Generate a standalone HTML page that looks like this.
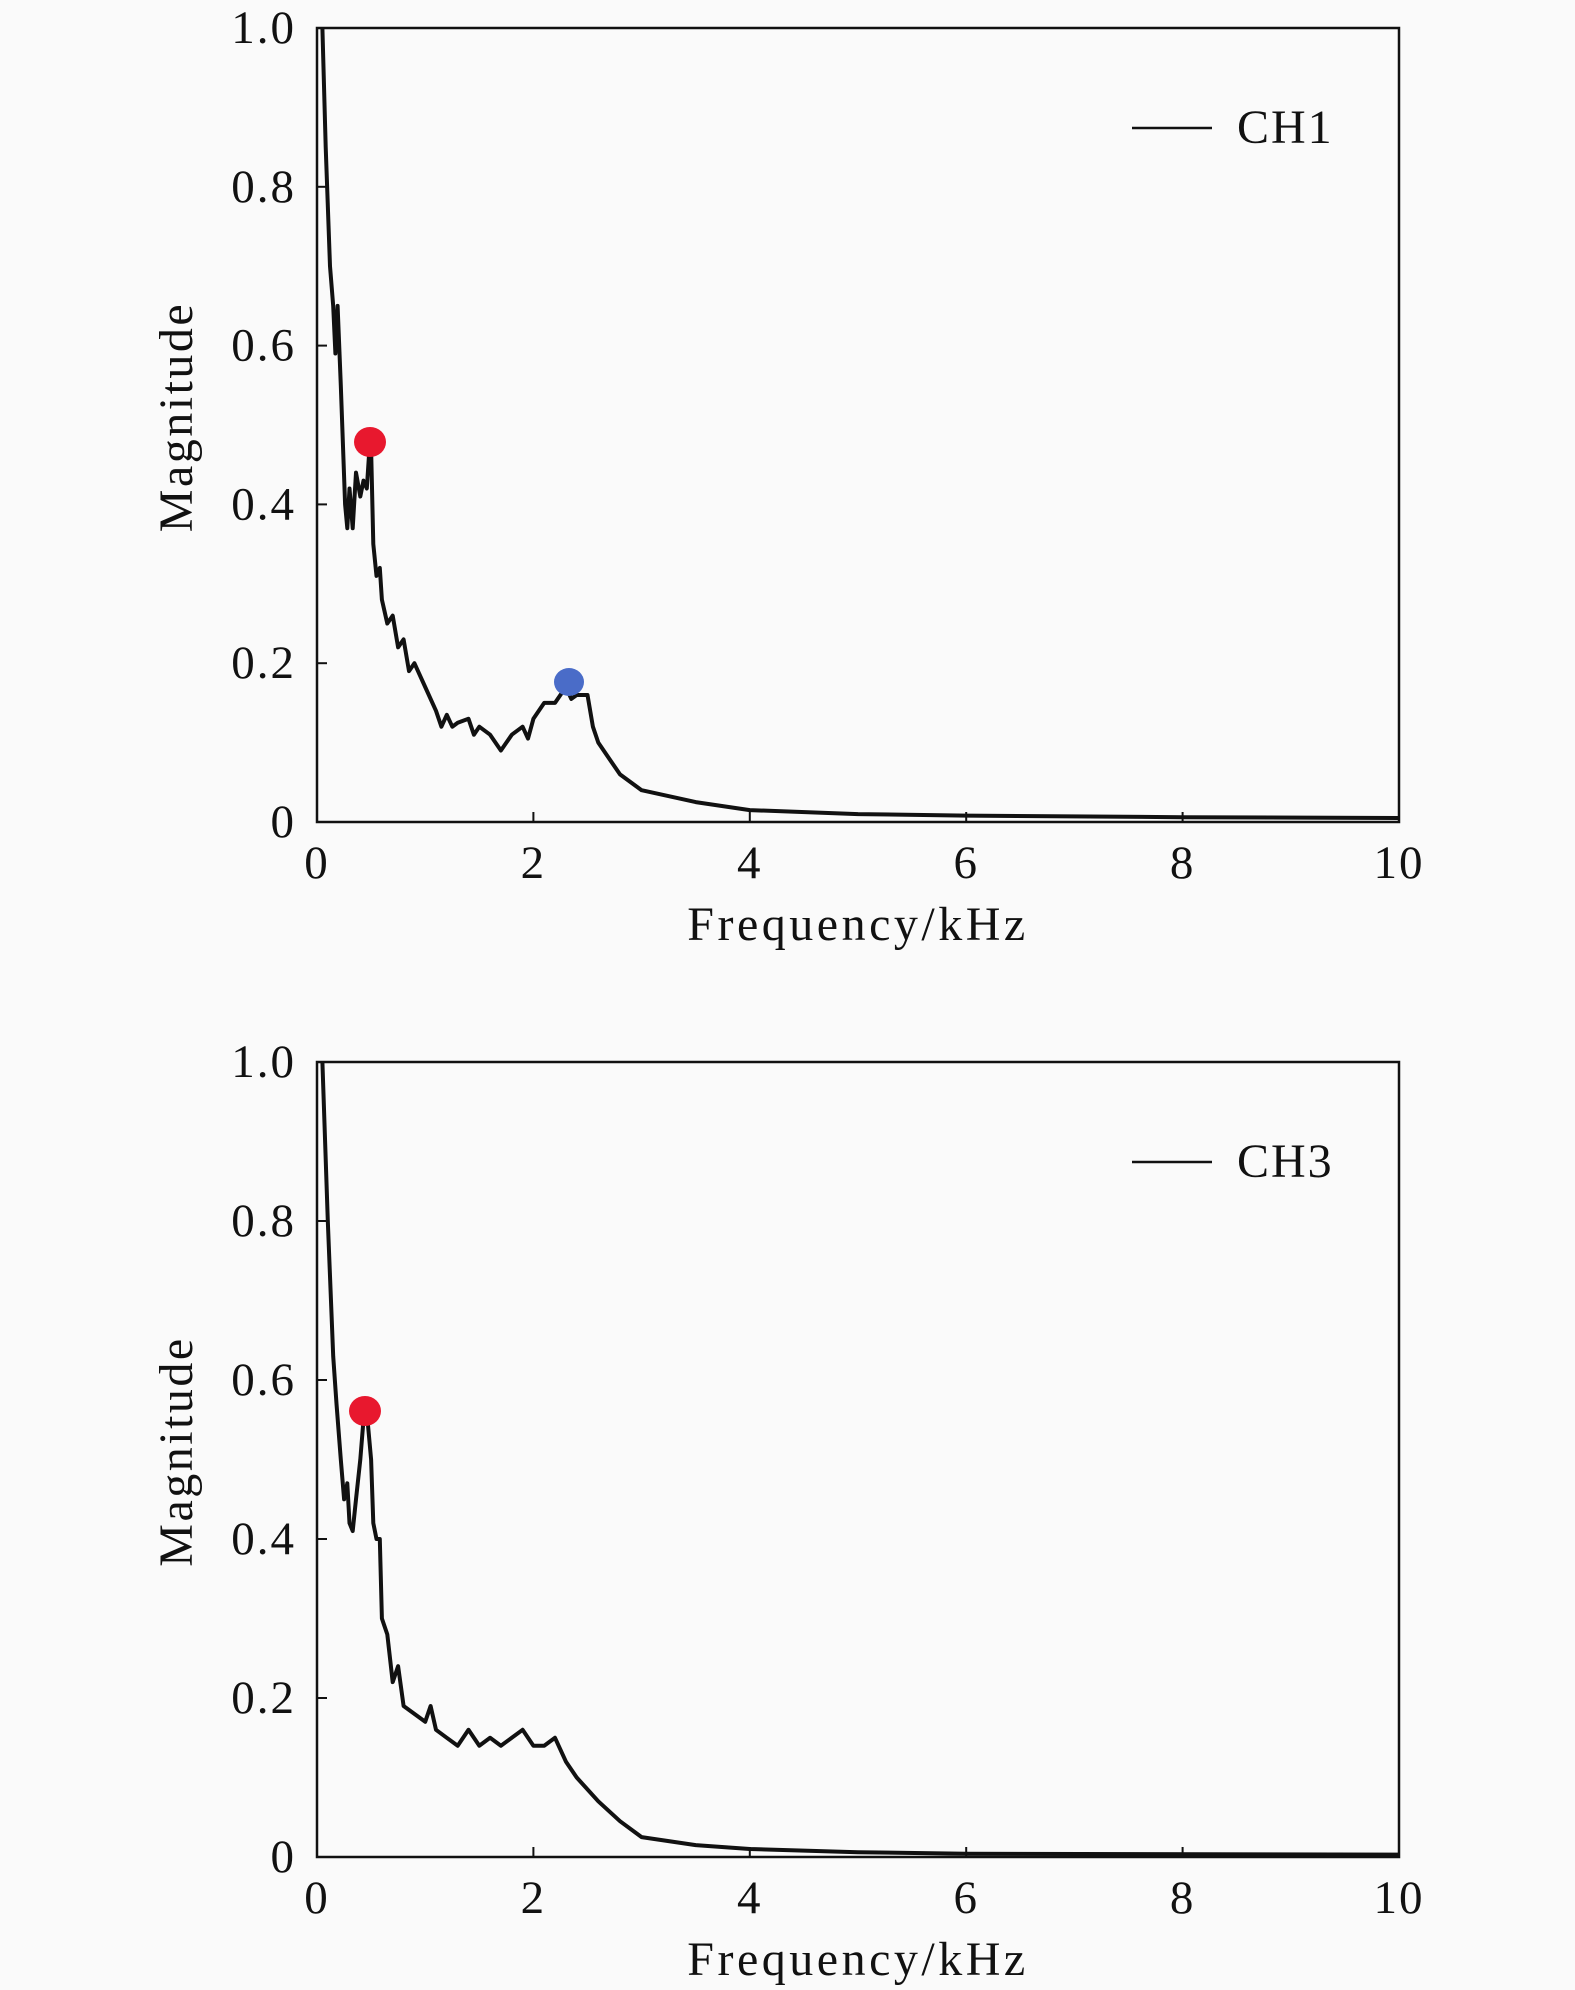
<!DOCTYPE html>
<html><head><meta charset="utf-8">
<style>
html,body{margin:0;padding:0;background:#fafafa;}
svg{display:block;}
text{font-family:"Liberation Serif","DejaVu Serif",serif;fill:#111;}
</style></head>
<body>
<svg id="s" width="1575" height="1990" xmlns="http://www.w3.org/2000/svg"></svg>
<script>
const NS="http://www.w3.org/2000/svg";
const s=document.getElementById('s');
function el(t,a,txt){const e=document.createElementNS(NS,t);for(const k in a)e.setAttribute(k,a[k]);if(txt!==undefined)e.textContent=txt;s.appendChild(e);return e;}
const L=317,R=1399;
function plot(top,bot,data,dots,leg){
  const fx=f=>L+f*(R-L)/10, fy=m=>bot-m*(bot-top);
  el('rect',{x:L,y:top,width:R-L,height:bot-top,fill:'none',stroke:'#111','stroke-width':2.5});
  for(let i=0;i<=5;i++){
    const x=fx(i*2);
    el('line',{x1:x,y1:bot,x2:x,y2:bot-10,stroke:'#111','stroke-width':2});
    el('text',{x:x,y:bot+56,'font-size':47,'text-anchor':'middle','letter-spacing':'2'},String(i*2));
    const v=i*0.2,y=fy(v);
    el('line',{x1:L,y1:y,x2:L+10,y2:y,stroke:'#111','stroke-width':2});
    el('text',{x:296,y:y+15,'font-size':47,'text-anchor':'end','letter-spacing':'2'},i==0?'0':v.toFixed(1));
  }
  el('text',{x:858,y:bot+118,'font-size':48,'text-anchor':'middle','letter-spacing':'3.5'},'Frequency/kHz');
  const cy=(top+bot)/2-8;
  el('text',{x:0,y:0,'font-size':48,'text-anchor':'middle','letter-spacing':'2.5',transform:`translate(192,${cy}) rotate(-90)`},'Magnitude');
  el('line',{x1:1132,y1:top+100,x2:1212,y2:top+100,stroke:'#111','stroke-width':2.5});
  el('text',{x:1237,y:top+115,'font-size':48,'letter-spacing':'2'},leg);
  el('polyline',{points:data.map(p=>fx(p[0]).toFixed(1)+','+fy(p[1]).toFixed(1)).join(' '),fill:'none',stroke:'#111','stroke-width':4,'stroke-linejoin':'round'});
  dots.forEach(d=>el('ellipse',{cx:d[0],cy:d[1],rx:d[2]+1,ry:d[2],fill:d[3]}));
}
const ch1=[[0.05,1.0],[0.08,0.85],[0.12,0.7],[0.15,0.65],[0.17,0.59],[0.19,0.65],[0.22,0.55],[0.26,0.4],[0.28,0.37],[0.3,0.42],[0.33,0.37],[0.36,0.44],[0.4,0.41],[0.43,0.43],[0.46,0.42],[0.48,0.46],[0.5,0.47],[0.52,0.35],[0.55,0.31],[0.58,0.32],[0.6,0.28],[0.65,0.25],[0.7,0.26],[0.75,0.22],[0.8,0.23],[0.85,0.19],[0.9,0.2],[1.0,0.17],[1.1,0.14],[1.15,0.12],[1.2,0.135],[1.25,0.12],[1.3,0.125],[1.4,0.13],[1.45,0.11],[1.5,0.12],[1.6,0.11],[1.7,0.09],[1.8,0.11],[1.9,0.12],[1.95,0.105],[2.0,0.13],[2.1,0.15],[2.2,0.15],[2.3,0.17],[2.35,0.155],[2.4,0.16],[2.5,0.16],[2.55,0.12],[2.6,0.10],[2.7,0.08],[2.8,0.06],[3.0,0.04],[3.5,0.025],[4,0.015],[5,0.01],[6,0.008],[8,0.006],[10,0.005]];
const ch3=[[0.05,1.0],[0.1,0.8],[0.15,0.63],[0.18,0.57],[0.22,0.5],[0.25,0.45],[0.28,0.47],[0.3,0.42],[0.33,0.41],[0.36,0.45],[0.4,0.5],[0.43,0.55],[0.46,0.56],[0.5,0.5],[0.52,0.42],[0.55,0.4],[0.58,0.4],[0.6,0.3],[0.65,0.28],[0.7,0.22],[0.75,0.24],[0.8,0.19],[0.9,0.18],[1.0,0.17],[1.05,0.19],[1.1,0.16],[1.2,0.15],[1.3,0.14],[1.4,0.16],[1.5,0.14],[1.6,0.15],[1.7,0.14],[1.8,0.15],[1.9,0.16],[2.0,0.14],[2.1,0.14],[2.2,0.15],[2.3,0.12],[2.4,0.1],[2.6,0.07],[2.8,0.045],[3.0,0.025],[3.5,0.015],[4,0.01],[5,0.006],[6,0.004],[10,0.003]];
plot(28,822,ch1,[[370,442,15,'#e8182e'],[569,682,14,'#4a6cc8']],'CH1');
plot(1062,1857,ch3,[[365,1411,15,'#e8182e']],'CH3');
</script>
</body></html>
